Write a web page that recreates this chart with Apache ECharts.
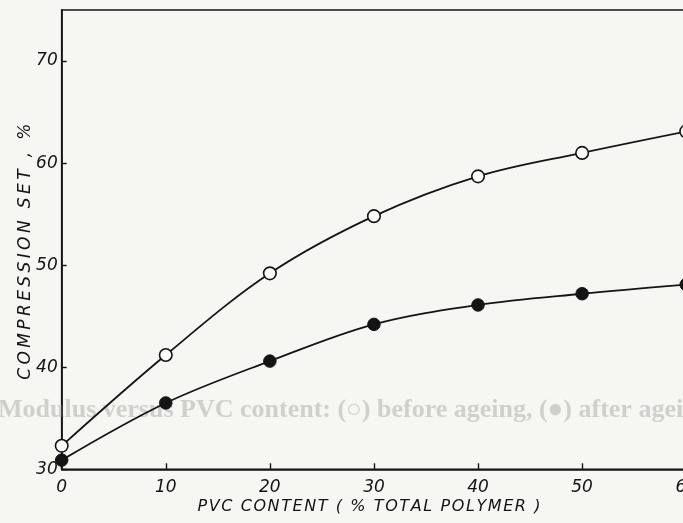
<!DOCTYPE html>
<html>
<head>
<meta charset="utf-8">
<script src="https://cdn.jsdelivr.net/npm/echarts@6/dist/echarts.min.js"></script>
<style>
html,body{margin:0;padding:0;background:#f6f6f3;}
#chart{width:683px;height:523px;}
</style>
</head>
<body>
<div id="chart"></div>
<script>
// PVC content (% total polymer)
var pvcContent = [0, 10, 20, 30, 40, 50, 60];
// Compression set, % : open circles
var openSet = [32.3, 41.2, 49.2, 54.8, 58.7, 61.0, 63.1];
// Compression set, % : filled circles
var filledSet = [30.9, 36.5, 40.6, 44.2, 46.1, 47.2, 48.1];
var xTicks = [0, 10, 20, 30, 40, 50, 60];
var yTicks = [30, 40, 50, 60, 70];
var xTitle = 'PVC CONTENT ( % TOTAL POLYMER )';
var yTitle = 'COMPRESSION SET , %';
var caption = 'Modulus versus PVC content: (\u25CB) before ageing, (\u25CF) after ageing';

function pairs(xs, ys){ return xs.map(function(x,i){ return [x, ys[i]]; }); }
// wide hand-lettered look: small space between characters
function spaced(s, sp){ return s.split('').join(sp); }

var ink = '#141414';
var font = 'DejaVu Sans';
var chart = echarts.init(document.getElementById('chart'));
chart.setOption({
  backgroundColor: '#f6f6f3',
  animation: false,
  graphic: [{
    type: 'text', left: -2, top: 397, silent: true, z: 0,
    style: { text: caption, font: 'bold 26px "Liberation Serif"', fill: '#cfcfcc' }
  }],
  grid: { left: 61.7, top: 10, width: 624.5, bottom: 53.7, outerBoundsMode: 'none', containLabel: false,
    show: true, borderColor: ink, borderWidth: 1.6, backgroundColor: 'transparent' },
  xAxis: {
    type: 'value', min: 0, max: 60, interval: 10,
    name: spaced(xTitle, '\u200A'), nameLocation: 'middle', nameGap: 30, nameMoveOverlap: false,
    nameTextStyle: { fontFamily: font, fontStyle: 'italic', fontSize: 16, color: ink, padding: [0, 10, 0, 0] },
    axisLine: { lineStyle: { color: ink, width: 1.6 } },
    axisTick: { inside: true, length: 6, lineStyle: { color: ink, width: 1.4 } },
    axisLabel: { fontFamily: font, fontStyle: 'italic', fontSize: 17, color: ink, margin: 10,
      formatter: function(v){ return xTicks.indexOf(v) >= 0 ? String(v) : ''; } },
    splitLine: { show: false }
  },
  yAxis: {
    type: 'value', min: 30, max: 75, interval: 10,
    name: spaced(yTitle, '\u2009'), nameLocation: 'middle', nameGap: 28, nameMoveOverlap: false,
    nameTextStyle: { fontFamily: font, fontStyle: 'italic', fontSize: 17, color: ink, padding: [0, 24, 0, 0] },
    axisLine: { lineStyle: { color: ink, width: 1.6 } },
    axisTick: { inside: true, length: 5, lineStyle: { color: ink, width: 1.4 } },
    axisLabel: { fontFamily: font, fontStyle: 'italic', fontSize: 17, color: ink, margin: 4, showMaxLabel: false,
      formatter: function(v){ return yTicks.indexOf(v) >= 0 ? String(v) : ''; } },
    splitLine: { show: false }
  },
  series: [
    { type: 'line', data: pairs(pvcContent, openSet), smooth: 0.35, clip: false,
      symbol: 'circle', symbolSize: 12.5,
      lineStyle: { color: ink, width: 1.8 },
      itemStyle: { color: '#fbfbf9', borderColor: ink, borderWidth: 1.6 } },
    { type: 'line', data: pairs(pvcContent, filledSet), smooth: 0.35, clip: false,
      symbol: 'circle', symbolSize: 12.5,
      lineStyle: { color: ink, width: 1.8 },
      itemStyle: { color: ink, borderColor: ink, borderWidth: 1 } }
  ]
});
</script>
</body>
</html>
